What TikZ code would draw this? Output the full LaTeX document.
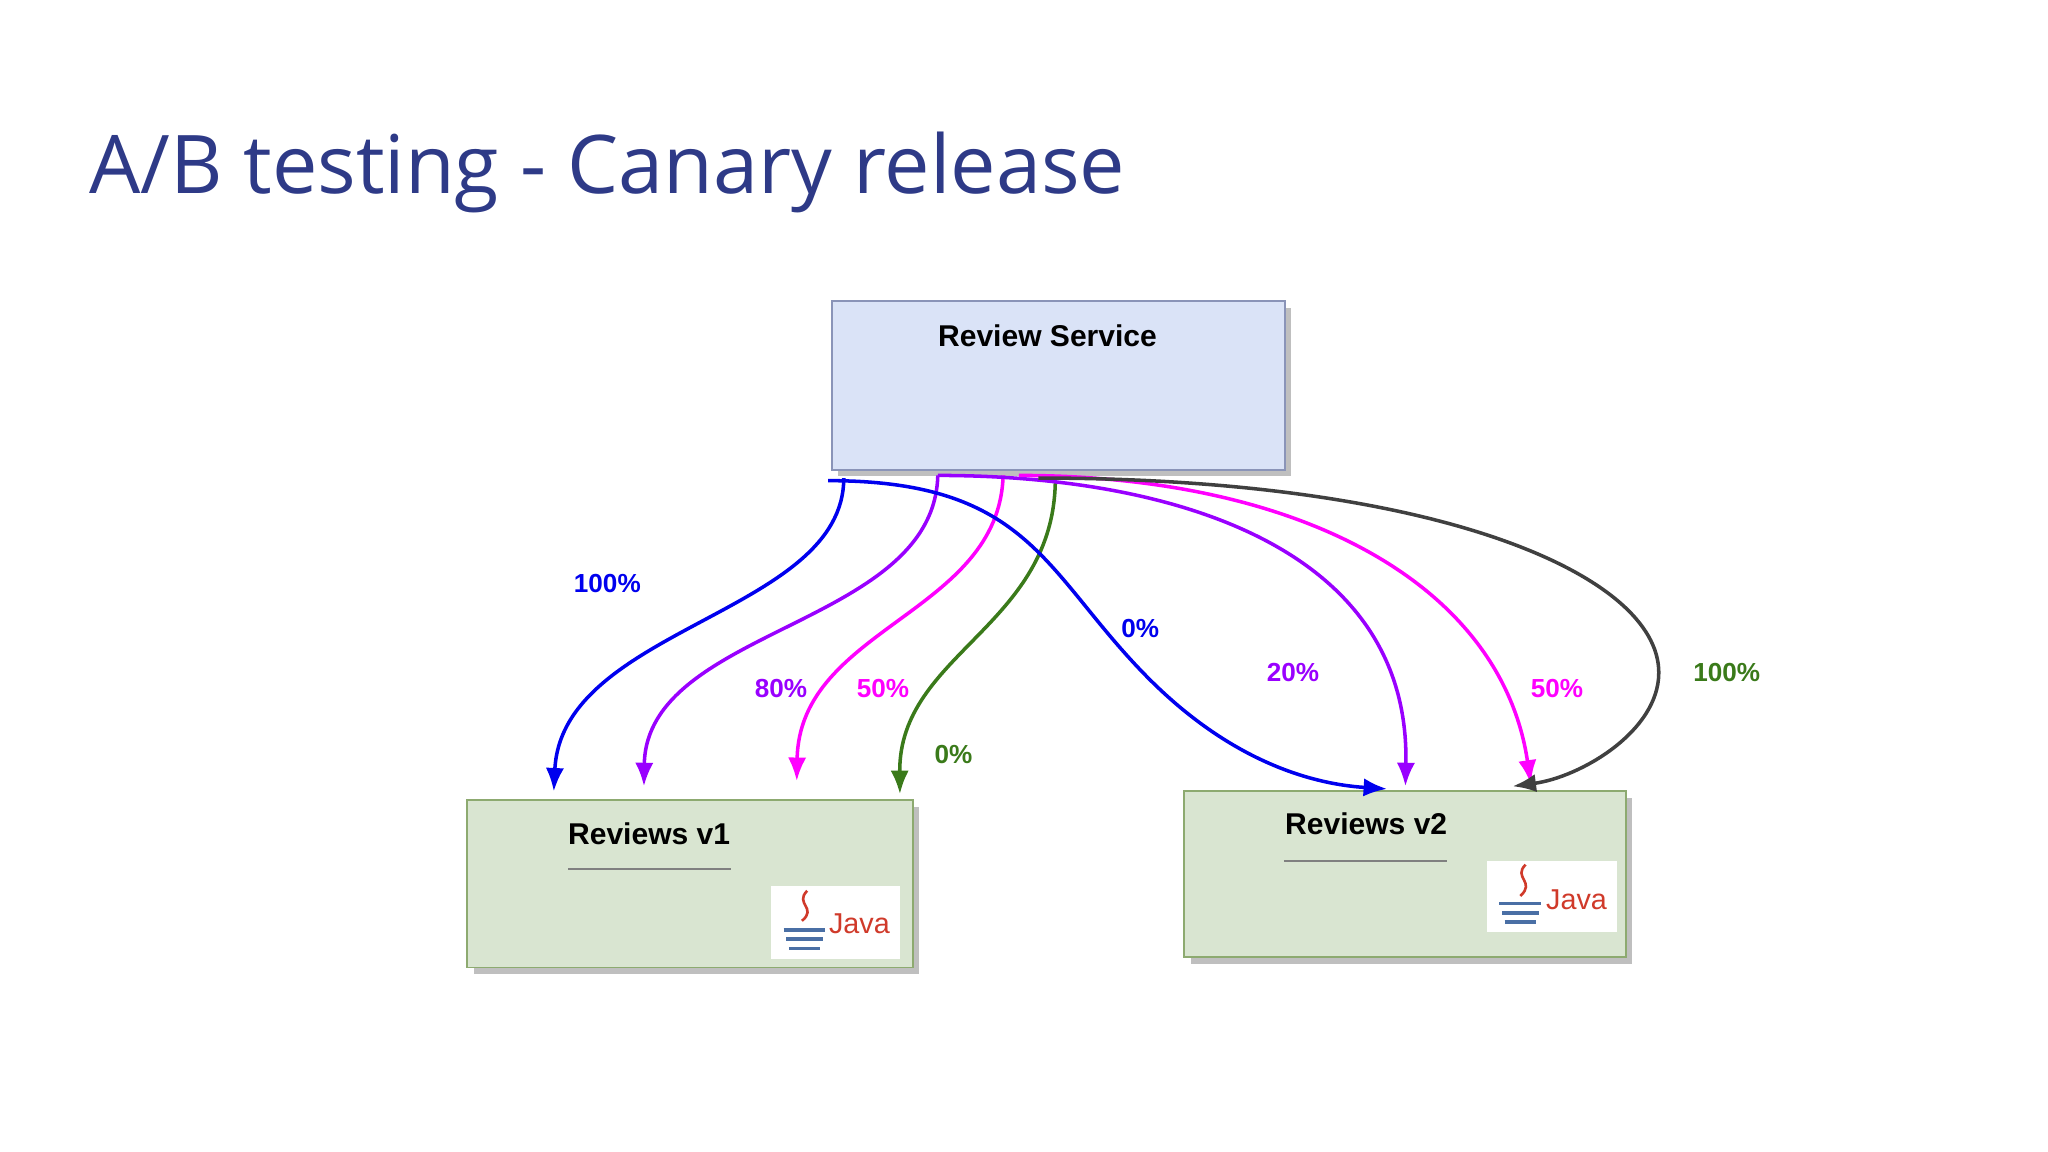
\documentclass[tikz,border=0pt]{standalone}
\usepackage{fontspec}
\setmainfont{Liberation Sans}
\newfontfamily\titlefont{Open Sans}
\usetikzlibrary{arrows.meta,shadows}
\definecolor{titleblue}{HTML}{2E3A87}
\definecolor{rsfill}{HTML}{DAE3F7}
\definecolor{rsdraw}{HTML}{8A94B8}
\definecolor{gfill}{HTML}{D9E5D1}
\definecolor{gdraw}{HTML}{8DAA70}
\definecolor{cblue}{HTML}{0000EE}
\definecolor{cpurple}{HTML}{9900FF}
\definecolor{cmag}{HTML}{FF00FF}
\definecolor{cgreen}{HTML}{3A7A1A}
\definecolor{cgray}{HTML}{404040}
\definecolor{javared}{HTML}{D03A2A}
\definecolor{javablue}{HTML}{4A6FA5}
\begin{document}
\begin{tikzpicture}[x=1pt,y=-1pt,
  box/.style={draw,line width=1.5pt,drop shadow={shadow xshift=5pt,shadow yshift=-5pt,fill=black!25,opacity=1}},
  lbl/.style={font=\bfseries\fontsize{23}{26}\selectfont,text=black},
  pct/.style={font=\bfseries\fontsize{20}{24}\selectfont},
  arr/.style={line width=2.7pt,-{Latex[length=18pt,width=14pt]}},
  javabox/.style={fill=white,draw=none},
]
\useasboundingbox (0,0) rectangle (1568,882);
\node[anchor=base west,text=titleblue,font=\titlefont\fontsize{62}{70}\selectfont,inner sep=0] (title) at (68,148) {A/B testing - Canary release};

\node[box,fill=rsfill,draw=rsdraw,minimum width=347pt,minimum height=129pt,anchor=north west,inner sep=0] (rs) at (636,230) {};
\node[lbl] (rslbl) at (802,257) {Review Service};

\node[box,fill=gfill,draw=gdraw,minimum width=341pt,minimum height=128pt,anchor=north west,inner sep=0] (v1) at (357,612) {};
\node[lbl] (v1lbl) at (497,638) {Reviews v1};
\draw[gray,line width=1.5pt] (435,665) -- (560,665);
\node[javabox,minimum width=99pt,minimum height=56pt,anchor=north west] (j1) at (590,678) {};
\node[text=javared,font=\fontsize{22}{24}\selectfont] (j1t) at (658,707) {Java};
\draw[javared,line width=2pt] (618,682) .. controls (608,692) and (626,695) .. (614,705);
\draw[javablue,line width=2.5pt] (600,712) -- (632,712) (602,719) -- (630,719) (604,726) -- (628,726);

\node[box,fill=gfill,draw=gdraw,minimum width=338pt,minimum height=127pt,anchor=north west,inner sep=0] (v2) at (906,605) {};
\node[lbl] (v2lbl) at (1046,631) {Reviews v2};
\draw[gray,line width=1.5pt] (983,659) -- (1108,659);
\node[javabox,minimum width=100pt,minimum height=54pt,anchor=north west] (j2) at (1138,659) {};
\node[text=javared,font=\fontsize{22}{24}\selectfont] (j2t) at (1207,689) {Java};
\draw[javared,line width=2pt] (1168,662) .. controls (1158,672) and (1176,675) .. (1164,686);
\draw[javablue,line width=2.5pt] (1148,692) -- (1180,692) (1150,699) -- (1178,699) (1152,706) -- (1176,706);

\coordinate (sb1) at (646,366);
\coordinate (sb2) at (634,368);
\coordinate (sp) at (718,364);
\coordinate (sm1) at (768,364);
\coordinate (sm2) at (780,364);
\coordinate (sg) at (808,366);
\coordinate (sk) at (795,366);
\coordinate (eb1) at (424,606);
\coordinate (ep1) at (493,602);
\coordinate (em1) at (610,598);
\coordinate (eg) at (689,608);
\coordinate (eb2) at (1062,604);
\coordinate (ep2) at (1076,602);
\coordinate (em2) at (1172,600);
\coordinate (ek) at (1158,602);

\draw[arr,cblue] (sb1) .. controls (646,470) and (430,480) .. (eb1);
\draw[arr,cpurple] (sp) .. controls (715,480) and (495,480) .. (ep1);
\draw[arr,cmag] (sm1) .. controls (765,470) and (612,480) .. (em1);
\draw[arr,cgreen] (sg) .. controls (808,480) and (688,500) .. (eg);
\draw[arr,cblue] (sb2) .. controls (790,368) and (800,440) .. (880,520) .. controls (940,580) and (1000,600) .. (eb2);
\draw[arr,cpurple] (sp) .. controls (900,364) and (1080,420) .. (ep2);
\draw[arr,cmag] (sm2) .. controls (1000,364) and (1150,450) .. (em2);
\draw[arr,cgray] (sk) .. controls (1100,366) and (1270,440) .. (1270,515) .. controls (1270,560) and (1210,595) .. (ek);

\node[pct,text=cblue] (l1) at (465,447) {100\%};
\node[pct,text=cpurple] (l2) at (598,527) {80\%};
\node[pct,text=cmag] (l3) at (676,527) {50\%};
\node[pct,text=cgreen] (l4) at (730,578) {0\%};
\node[pct,text=cblue] (l5) at (873,481) {0\%};
\node[pct,text=cpurple] (l6) at (990,515) {20\%};
\node[pct,text=cmag] (l7) at (1192,527) {50\%};
\node[pct,text=cgreen] (l8) at (1322,515) {100\%};
\end{tikzpicture}
\end{document}
